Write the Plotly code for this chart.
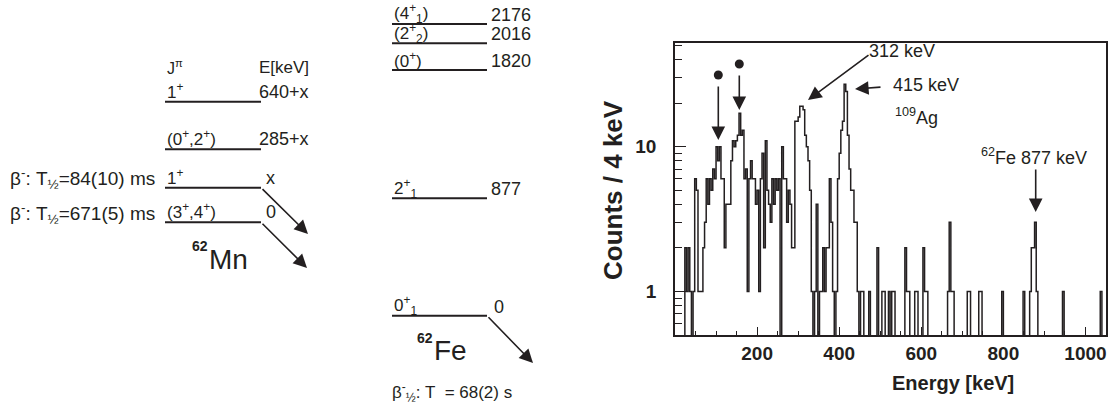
import math
import plotly.graph_objects as go

W, H = 1108, 412
FONT = "Liberation Sans, Arial, Helvetica, sans-serif"
INK = "#231f20"

# ---------------- histogram data : counts per 4 keV bin, first bin starts at 0 keV ----------------
BIN_WIDTH = 4
counts = [
    0, 0, 0, 0, 0, 0, 2, 1, 2, 1, 0, 1, 6, 5, 1, 1, 1, 2, 3, 6, 4, 6, 5, 7, 6,          # 0-96
    10, 8, 10, 6, 6, 2, 4, 4, 4, 8, 11, 10, 11, 12, 17, 12, 13, 6, 7, 1, 6, 8, 6, 6, 4,  # 100-196
    5, 1, 6, 9, 2, 11, 5, 4, 3, 6, 4, 6, 5, 6, 0, 10, 6, 6, 3, 5, 4, 2, 2, 15, 15,      # 200-296
    16, 19, 19, 18, 12, 10, 8, 5, 1, 0, 1, 4, 0, 1, 1, 2, 1, 2, 2, 6, 3, 1, 0, 1, 6,    # 300-396
    9, 13, 15, 27, 24, 12, 7, 5, 5, 3, 3, 1, 0, 1, 1, 0, 0, 0, 1, 0, 0, 0, 0, 2, 0,     # 400-496
    0, 1, 1, 0, 0, 1, 0, 1, 1, 0, 0, 0, 0, 0, 0, 2, 1, 1, 0, 0, 0, 1, 1, 0, 0,          # 500-596
    0, 2, 1, 1, 0, 0, 0, 0, 0, 0, 0, 0, 0, 0, 0, 0, 1, 3, 1, 1, 0, 0, 0, 0, 0,          # 600-696
    0, 0, 0, 1, 1, 0, 0, 0, 0, 0, 1, 1, 0, 0, 0, 0, 0, 0, 0, 0, 0, 0, 0, 0, 1,          # 700-796
    0, 0, 0, 0, 0, 0, 0, 0, 0, 0, 0, 0, 1, 0, 0, 0, 1, 2, 2, 3, 1, 0, 0, 0, 0,          # 800-896
    0, 0, 0, 0, 0, 0, 0, 0, 0, 0, 0, 1, 0, 0, 0, 0, 0, 0, 0, 0, 0, 0, 0, 0, 0,          # 900-996
    0, 0, 0, 0, 0, 0, 0, 0, 0, 1, 0, 0,                                                 # 1000-1044
]
bin_low = [i * BIN_WIDTH for i in range(len(counts))]

x_range = [0, 1050]
y_range = [0.5, 52]
x_tick_vals = [200, 400, 600, 800, 1000]
x_tick_text = ["200", "400", "600", "800", "1000"]
y_tick_vals = [1, 10]
y_tick_text = ["1", "10"]
y_minor_vals = [0.6, 0.7, 0.8, 0.9, 2, 3, 4, 5, 6, 7, 8, 9, 20, 30, 40, 50]

# ---------------- level scheme data ----------------
mn_energy = ["640+x", "285+x", "x", "0"]
mn_spin = ["1<sup>+</sup>", "(0<sup>+</sup>,2<sup>+</sup>)", "1<sup>+</sup>", "(3<sup>+</sup>,4<sup>+</sup>)"]
mn_halflife = ["", "", "β<sup>-</sup>: T<sub>½</sub>=84(10) ms", "β<sup>-</sup>: T<sub>½</sub>=671(5) ms"]
fe_energy = ["2176", "2016", "1820", "877", "0"]
fe_spin = ["(4<sup>+</sup><sub>1</sub>)", "(2<sup>+</sup><sub>2</sub>)", "(0<sup>+</sup>)",
           "2<sup>+</sup><sub>1</sub>", "0<sup>+</sup><sub>1</sub>"]

# layout (pixel positions of the schematic drawing)
MN_X = (165, 261)
MN_Y = [101.7, 149.3, 187.7, 222.3]
FE_X = (392, 487)
FE_Y = [24, 43.3, 70, 198.3, 315.7]

# plot frame in pixels
FL, FR, FT, FB = 675, 1106, 43, 335


def px(x):
    return x / W


def py(y):
    return 1 - y / H


annotations = []
shapes = []


def text(s, x, y, size=18, xanchor="left", bold=False, angle=0):
    annotations.append(dict(
        text=s, x=px(x), y=py(y), xref="paper", yref="paper", showarrow=False,
        xanchor=xanchor, yanchor="middle", textangle=angle,
        font=dict(family=FONT, size=size, color=INK, weight="bold" if bold else "normal"),
    ))


def arrow(x0, y0, x1, y1, width=1.6):
    annotations.append(dict(
        text="", x=px(x1), y=py(y1), xref="paper", yref="paper",
        ax=x0 - x1, ay=y0 - y1, axref="pixel", ayref="pixel",
        showarrow=True, arrowhead=2, arrowsize=1.7, arrowwidth=width,
        arrowcolor=INK, standoff=0, startstandoff=0,
    ))


def hline(x0, x1, y, width=2):
    shapes.append(dict(type="line", xref="paper", yref="paper",
                       x0=px(x0), x1=px(x1), y0=py(y), y1=py(y),
                       line=dict(color=INK, width=width)))


# ---- 62Mn side ----
text("J<sup>π</sup>", MN_X[0], 67, size=16)
text("E[keV]", 257, 67, size=17)
for e, s, t, y in zip(mn_energy, mn_spin, mn_halflife, MN_Y):
    hline(MN_X[0], MN_X[1], y)
    text(s, MN_X[0], y - 11, size=17)
    ex = 257 if len(e) > 1 else 264
    text(e, ex, y - 10, size=18)
    if t:
        text(t, 8, y - 9, size=19)
arrow(MN_X[1], MN_Y[2], 308, 234)
arrow(MN_X[1], MN_Y[3], 307, 268)
text("62", 190, 246, size=14, bold=True)
text("Mn", 207, 259, size=28)

# ---- 62Fe side ----
for e, s, y in zip(fe_energy, fe_spin, FE_Y):
    hline(FE_X[0], FE_X[1], y)
    text(s, FE_X[0], y - 10, size=17)
    ex = 489 if len(e) > 1 else 492
    text(e, ex, y - 9, size=18)
arrow(FE_X[1], FE_Y[4], 533, 363)
text("62", 415, 338, size=14, bold=True)
text("Fe", 432, 350, size=28)
text("β<sup>-</sup><sub>½</sub>: T  = 68(2) s", 390, 392, size=17)

# ---- spectrum annotations ----
text("312 keV", 867, 51, size=18)
arrow(870, 54, 808, 100)
text("415 keV", 891, 85, size=18)
arrow(882, 87, 855, 89)
text("<sup>109</sup>Ag", 893, 116, size=18)
text("<sup>62</sup>Fe 877 keV", 979, 157, size=18)
arrow(1035.7, 168, 1035.7, 212)
for cx, cy, tip in [(718.3, 75, 140), (739.3, 64, 110)]:
    shapes.append(dict(type="circle", xref="paper", yref="paper",
                       x0=px(cx - 4.5), x1=px(cx + 4.5), y0=py(cy - 4.5), y1=py(cy + 4.5),
                       fillcolor=INK, line=dict(color=INK, width=0)))
    arrow(cx, cy + 10, cx, tip)

# axis titles
text("Counts / 4 keV", 613, 190, size=26, xanchor="center", bold=True, angle=-90)
text("Energy [keV]", 953, 383, size=20, xanchor="center", bold=True)

# ---------------- figure ----------------
y_plot = [c if c > 0 else 0.1 for c in counts]
x_centers = [b + BIN_WIDTH / 2 for b in bin_low]

fig = go.Figure(go.Scatter(
    x=x_centers, y=y_plot, mode="lines", line=dict(shape="hvh", color=INK, width=1.5),
    hoverinfo="skip", showlegend=False,
))

fig.update_layout(
    width=W, height=H, margin=dict(l=0, r=0, t=0, b=0),
    paper_bgcolor="white", plot_bgcolor="white",
    annotations=annotations, shapes=shapes, showlegend=False,
    xaxis=dict(
        domain=[px(FL), px(FR)], range=x_range, showgrid=False, zeroline=False,
        showline=True, mirror=True, linecolor=INK, linewidth=1.6,
        tickmode="array", tickvals=x_tick_vals, ticktext=x_tick_text,
        ticks="inside", ticklen=8, tickwidth=1, tickcolor=INK,
        tickfont=dict(family=FONT, size=19, color=INK, weight="bold"),
        minor=dict(tickmode="linear", tick0=0, dtick=50, ticks="inside", ticklen=4,
                   tickcolor=INK, tickwidth=1, showgrid=False),
        automargin=False, fixedrange=True,
    ),
    yaxis=dict(
        domain=[py(FB), py(FT)], type="log", range=[math.log10(y_range[0]), math.log10(y_range[1])],
        showgrid=False, zeroline=False,
        showline=True, mirror=True, linecolor=INK, linewidth=1.6,
        tickmode="array", tickvals=y_tick_vals, ticktext=y_tick_text,
        ticks="inside", ticklen=11, tickwidth=1, tickcolor=INK,
        tickfont=dict(family=FONT, size=19, color=INK, weight="bold"),
        ticklabelstandoff=13,
        minor=dict(tickmode="array", tickvals=y_minor_vals, ticks="inside", ticklen=7,
                   tickcolor=INK, tickwidth=1, showgrid=False),
        automargin=False, fixedrange=True,
    ),
)

fig.write_html("out.html")
